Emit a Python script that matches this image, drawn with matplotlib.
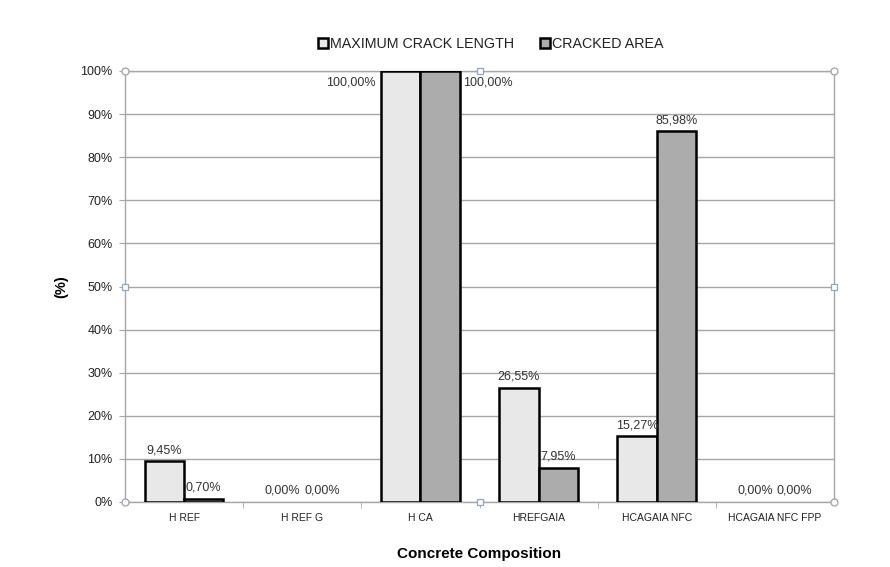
import matplotlib
matplotlib.use("Agg")
import matplotlib.pyplot as plt
import numpy as np
from matplotlib.ticker import MultipleLocator, FuncFormatter

categories = ["H REF", "H REF G", "H CA", "HREFGAIA", "HCAGAIA NFC", "HCAGAIA NFC FPP"]
max_crack_length = [9.45, 0.00, 100.00, 26.55, 15.27, 0.00]
cracked_area = [0.70, 0.00, 100.00, 7.95, 85.98, 0.00]
series_names = ["MAXIMUM CRACK LENGTH", "CRACKED AREA"]

plt.rcParams["font.family"] = ["Liberation Sans", "DejaVu Sans"]

fig = plt.figure(figsize=(8.9, 5.67), dpi=100)
ax = fig.add_axes([125 / 890, 1 - 502 / 567, (834 - 125) / 890, (502 - 71) / 567])

x = np.arange(len(categories))
w = 1 / 3
light, dark = "#e8e8e8", "#acacac"
grid_c = "#a6a6a6"


def edge_widths(vals):
    # zero-height bars get no outline
    return [1.8 if v > 0 else 0 for v in vals]


b1 = ax.bar(x - w / 2, max_crack_length, w, color=light, edgecolor="black",
            linewidth=edge_widths(max_crack_length), label=series_names[0], zorder=3)
b2 = ax.bar(x + w / 2, cracked_area, w, color=dark, edgecolor="black",
            linewidth=edge_widths(cracked_area), label=series_names[1], zorder=3)

ax.set_xlim(-0.5, len(categories) - 0.5)
ax.set_ylim(0, 100)
ax.yaxis.set_major_locator(MultipleLocator(10))
ax.yaxis.set_major_formatter(FuncFormatter(lambda v, p: f"{int(round(v))}%"))
ax.grid(axis="y", color=grid_c, linewidth=1, zorder=0)
ax.set_axisbelow(True)

for s in ["left", "bottom", "right", "top"]:
    ax.spines[s].set_color(grid_c)
    ax.spines[s].set_linewidth(1)

ax.tick_params(axis="y", direction="out", length=4, color=grid_c, labelsize=9,
               labelcolor="#222222", pad=5)
ax.set_xticks(x)
ax.set_xticklabels(categories)
ax.tick_params(axis="x", length=0, labelsize=7.5, labelcolor="#222222", pad=8)
ax.set_xticks(np.arange(0.5, len(categories) - 0.5, 1), minor=True)
ax.tick_params(axis="x", which="minor", direction="out", length=4, color=grid_c)


def fmt(v):
    return f"{v:.2f}".replace(".", ",") + "%"


def label_bars(bars, vals, side):
    for bar, v in zip(bars, vals):
        cx = bar.get_x() + bar.get_width() / 2
        if v >= 100:
            if side == "left":
                ax.annotate(fmt(v), (bar.get_x(), v), xytext=(-4, -8), textcoords="offset points",
                            ha="right", va="center", fontsize=9, color="#333333")
            else:
                ax.annotate(fmt(v), (bar.get_x() + bar.get_width(), v), xytext=(2, -8),
                            textcoords="offset points", ha="left", va="center", fontsize=9,
                            color="#333333")
        else:
            ax.annotate(fmt(v), (cx, v), xytext=(0, 8), textcoords="offset points",
                        ha="center", va="center", fontsize=9, color="#333333")


label_bars(b1, max_crack_length, "left")
label_bars(b2, cracked_area, "right")

# selection handles around the plot area
for (hx, hy) in [(0, 0), (1, 0), (0, 1), (1, 1)]:
    ax.plot(hx, hy, marker="o", ms=5, mfc="white", mec="#9aa3ad", mew=0.9,
            transform=ax.transAxes, clip_on=False, zorder=5)
for (hx, hy) in [(0.5, 0), (0.5, 1), (0, 0.5), (1, 0.5)]:
    ax.plot(hx, hy, marker="s", ms=4.5, mfc="white", mec="#8fa6c0", mew=0.9,
            transform=ax.transAxes, clip_on=False, zorder=5)

ax.set_ylabel("(%)", fontsize=10.5, fontweight="bold", labelpad=8.5)
ax.set_xlabel("Concrete Composition", fontsize=11, fontweight="bold", labelpad=17.5)

leg = fig.legend(handles=[b1, b2], loc="center", bbox_to_anchor=(491 / 890, 1 - 44 / 567),
                 ncol=2, frameon=False, fontsize=10.3, handlelength=0.7, handleheight=0.7,
                 handletextpad=0.15, columnspacing=1.8)
for t in leg.get_texts():
    t.set_color("#222222")

fig.savefig("out.png", dpi=100, facecolor="white")
